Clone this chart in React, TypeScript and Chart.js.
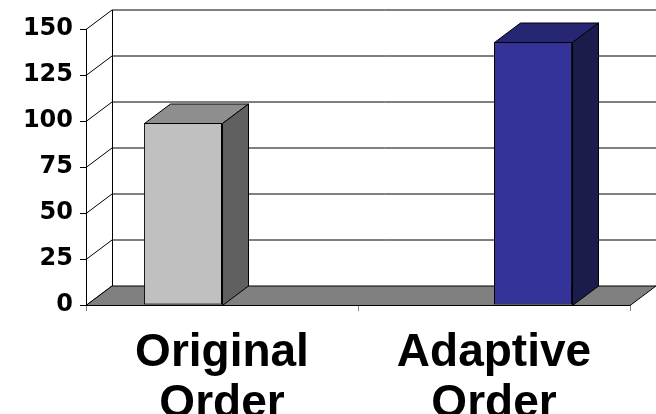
import React, { useEffect, useRef } from "react";
import { Chart, registerables } from "chart.js";

Chart.register(...registerables);

// Categories (two-line labels) and the two series
const categories: string[][] = [["Original", "Order"], ["Adaptive", "Order"]];
const originalValues: (number | null)[] = [99, null];
const adaptiveValues: (number | null)[] = [null, 143];
const yTicks: number[] = [0, 25, 50, 75, 100, 125, 150];

// Face colours for the pseudo-3D boxes: front, top, side
const originalFaces = ["#C0C0C0", "#8E8E8E", "#606060"];
const adaptiveFaces = ["#333399", "#262673", "#1C1C4C"];

const DEPTH_X = 26;
const DEPTH_Y = -19.5;
const TICK_FONT = "'DejaVu Sans', Verdana, sans-serif";
const LABEL_FONT = "'Liberation Sans', Arial, sans-serif";

const wallsAndFloor = {
  id: "wallsAndFloor",
  beforeDatasetsDraw(chart: any) {
    const { ctx, chartArea, scales } = chart;
    const y = scales.y;
    const { left, right, bottom } = chartArea;
    ctx.save();
    ctx.lineWidth = 1;
    ctx.strokeStyle = "#000";
    // back-wall gridlines and left-wall diagonals
    yTicks.forEach((v) => {
      const yf = Math.round(y.getPixelForValue(v)) + 0.5;
      const yb = yf + DEPTH_Y;
      ctx.beginPath();
      ctx.moveTo(left, yf);
      ctx.lineTo(left + DEPTH_X, yb);
      if (v > 0) ctx.lineTo(right + DEPTH_X + 40, yb);
      ctx.stroke();
    });
    // back-wall left edge
    const topBack = Math.round(y.getPixelForValue(150)) + 0.5 + DEPTH_Y;
    const botBack = Math.round(y.getPixelForValue(0)) + 0.5 + DEPTH_Y;
    ctx.beginPath();
    ctx.moveTo(left + DEPTH_X + 0.5, topBack);
    ctx.lineTo(left + DEPTH_X + 0.5, botBack);
    ctx.stroke();
    // floor
    const yf0 = Math.round(bottom) + 0.5;
    ctx.beginPath();
    ctx.moveTo(left, yf0);
    ctx.lineTo(right, yf0);
    ctx.lineTo(right + DEPTH_X, yf0 + DEPTH_Y);
    ctx.lineTo(left + DEPTH_X, yf0 + DEPTH_Y);
    ctx.closePath();
    ctx.fillStyle = "#808080";
    ctx.fill();
    ctx.stroke();
    ctx.restore();
  },
  afterDatasetsDraw(chart: any) {
    const { ctx } = chart;
    ctx.save();
    ctx.lineWidth = 1;
    ctx.strokeStyle = "#000";
    chart.data.datasets.forEach((ds: any, di: number) => {
      const faces = di === 0 ? originalFaces : adaptiveFaces;
      chart.getDatasetMeta(di).data.forEach((bar: any, i: number) => {
        if (ds.data[i] == null) return;
        const l = Math.round(bar.x - bar.width / 2) + 0.5;
        const r = Math.round(bar.x + bar.width / 2) + 0.5;
        const t = Math.round(bar.y) + 0.5;
        const b = Math.round(bar.base) + 0.5;
        // top face
        ctx.beginPath();
        ctx.moveTo(l, t);
        ctx.lineTo(r, t);
        ctx.lineTo(r + DEPTH_X, t + DEPTH_Y);
        ctx.lineTo(l + DEPTH_X, t + DEPTH_Y);
        ctx.closePath();
        ctx.fillStyle = faces[1];
        ctx.fill();
        ctx.stroke();
        // side face
        ctx.beginPath();
        ctx.moveTo(r, t);
        ctx.lineTo(r + DEPTH_X, t + DEPTH_Y);
        ctx.lineTo(r + DEPTH_X, b + DEPTH_Y);
        ctx.lineTo(r, b);
        ctx.closePath();
        ctx.fillStyle = faces[2];
        ctx.fill();
        ctx.stroke();
      });
    });
    ctx.restore();
  },
};

export default function App() {
  const canvasRef = useRef<HTMLCanvasElement | null>(null);

  useEffect(() => {
    if (!canvasRef.current) return;
    const chart = new Chart(canvasRef.current, {
      type: "bar",
      data: {
        labels: categories,
        datasets: [
          {
            label: "Original",
            data: originalValues,
            backgroundColor: originalFaces[0],
            borderColor: "#000",
            borderWidth: 1,
            borderSkipped: false,
          },
          {
            label: "Adaptive",
            data: adaptiveValues,
            backgroundColor: adaptiveFaces[0],
            borderColor: "#000",
            borderWidth: 1,
            borderSkipped: false,
          },
        ],
      },
      options: {
        animation: false,
        responsive: false,
        devicePixelRatio: 1,
        categoryPercentage: 0.574,
        barPercentage: 1.0,
        layout: { padding: { top: 29, right: 26, left: 0, bottom: 0 } },
        plugins: {
          legend: { display: false },
          tooltip: { enabled: false },
        },
        scales: {
          x: {
            type: "category",
            offset: true,
            grid: {
              offset: true,
              drawOnChartArea: false,
              drawTicks: true,
              tickLength: 6,
              color: "#808080",
            },
            border: { display: false },
            ticks: {
              color: "#000",
              font: { family: LABEL_FONT, weight: "bold", size: 46, lineHeight: 1.11 },
              padding: 17,
              maxRotation: 0,
              autoSkip: false,
            },
            afterFit: (scale: any) => {
              scale.height = 109;
            },
          },
          y: {
            min: 0,
            max: 150,
            grid: {
              drawOnChartArea: false,
              drawTicks: true,
              tickLength: 6,
              color: "#000",
            },
            border: { display: true, color: "#000", width: 1 },
            ticks: {
              stepSize: 25,
              color: "#000",
              font: { family: TICK_FONT, weight: "bold", size: 24 },
              padding: 7,
            },
            afterFit: (scale: any) => {
              scale.width = 86;
            },
          },
        },
      },
      plugins: [wallsAndFloor],
    });
    return () => chart.destroy();
  }, []);

  return (
    <div style={{ position: "absolute", left: 0, top: 0, width: 656, height: 414, background: "#fff" }}>
      <canvas ref={canvasRef} width={656} height={414} style={{ display: "block" }} />
    </div>
  );
}
